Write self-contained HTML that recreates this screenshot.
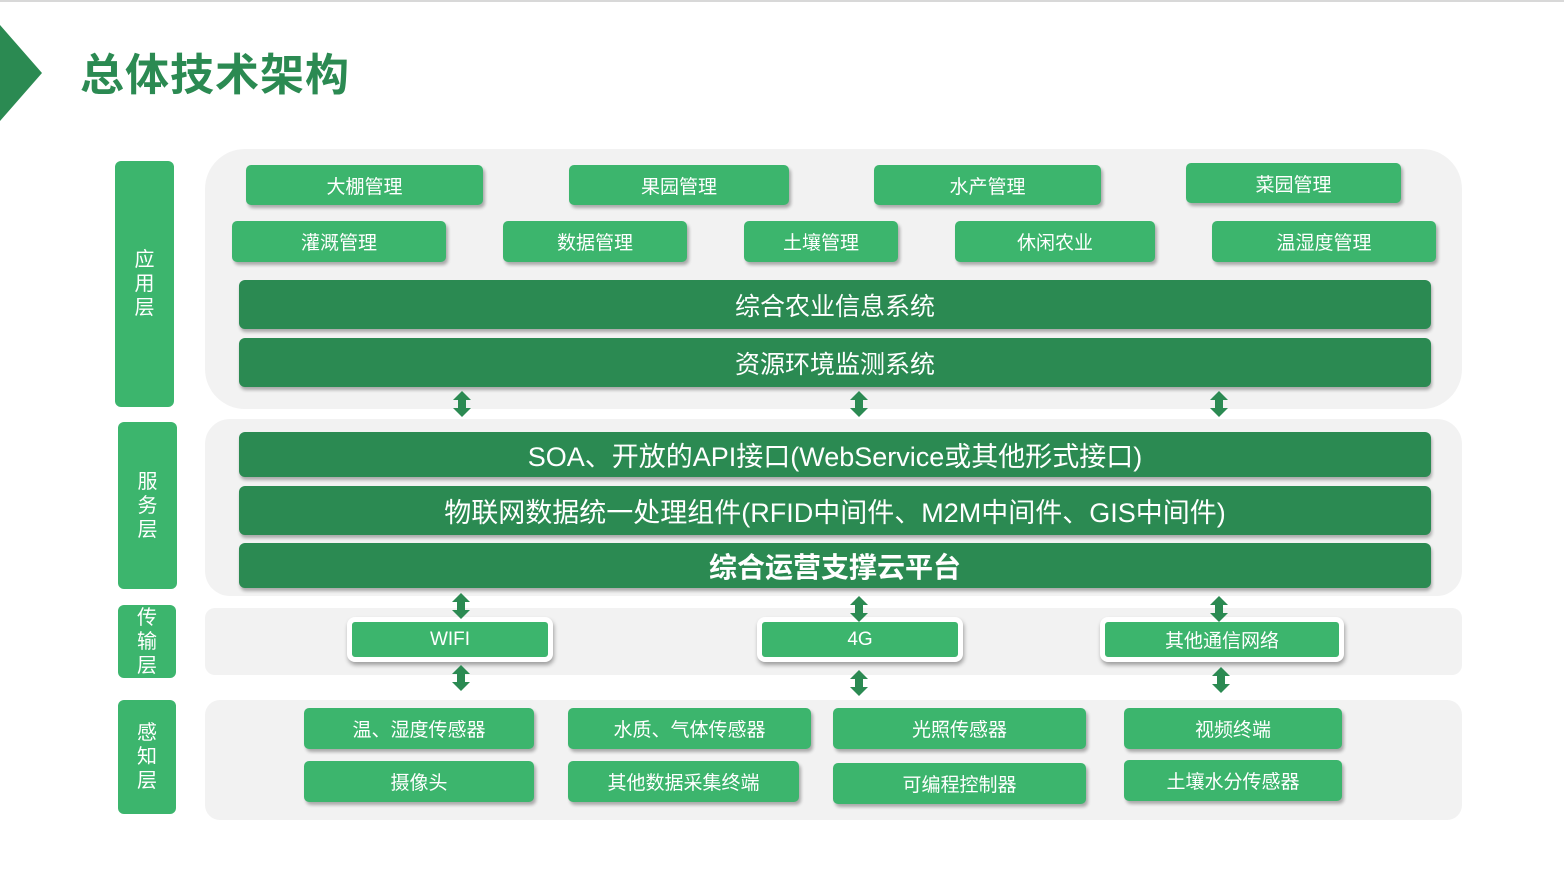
<!DOCTYPE html>
<html><head><meta charset="utf-8"><style>
body{margin:0;width:1564px;height:884px;background:#fff;position:relative;overflow:hidden;font-family:"Liberation Sans","Noto Sans CJK SC",sans-serif}
div{position:absolute;box-sizing:border-box}
.p{background:#f2f2f2}
.l{background:#3cb56d;color:#fff;border-radius:6px;font-size:20px;display:flex;align-items:center;justify-content:center;text-align:center;line-height:24px}
.b{background:#3cb56d;color:#fff;border-radius:5px;font-size:19px;display:flex;align-items:center;justify-content:center;box-shadow:2px 3px 3px rgba(0,0,0,.3)}
.d{background:#2b8a52;color:#fff;border-radius:6px;font-size:25px;display:flex;align-items:center;justify-content:center;box-shadow:1px 3px 3px rgba(0,0,0,.3)}
.t{background:#3cb56d;color:#fff;border:5px solid #fff;border-radius:8px;font-size:19px;display:flex;align-items:center;justify-content:center;box-shadow:1px 3px 4px rgba(0,0,0,.35)}
</style></head><body>
<div style="left:0;top:0;width:1564px;height:2px;background:#d8d8d8"></div>
<svg style="position:absolute;left:0;top:25px" width="45" height="100"><polygon points="0,0 42,48 0,96" fill="#2b8a52"/></svg>
<div style="left:80px;top:46px;font-size:44px;font-weight:bold;color:#2b8a52;letter-spacing:1px;line-height:60px">总体技术架构</div>

<div class="p" style="left:205px;top:149px;width:1257px;height:260px;border-radius:40px"></div>
<div class="p" style="left:205px;top:419px;width:1257px;height:177px;border-radius:25px"></div>
<div class="p" style="left:205px;top:608px;width:1257px;height:67px;border-radius:10px"></div>
<div class="p" style="left:205px;top:700px;width:1257px;height:120px;border-radius:15px"></div>

<div class="l" style="left:115px;top:161px;width:59px;height:246px">应<br>用<br>层</div>
<div class="l" style="left:118px;top:422px;width:59px;height:167px">服<br>务<br>层</div>
<div class="l" style="left:118px;top:605px;width:58px;height:73px">传<br>输<br>层</div>
<div class="l" style="left:118px;top:700px;width:58px;height:114px">感<br>知<br>层</div>

<div class="b" style="left:246px;top:165px;width:237px;height:40px">大棚管理</div>
<div class="b" style="left:569px;top:165px;width:220px;height:40px">果园管理</div>
<div class="b" style="left:874px;top:165px;width:227px;height:40px">水产管理</div>
<div class="b" style="left:1186px;top:163px;width:215px;height:40px">菜园管理</div>
<div class="b" style="left:232px;top:221px;width:214px;height:41px">灌溉管理</div>
<div class="b" style="left:503px;top:221px;width:184px;height:41px">数据管理</div>
<div class="b" style="left:744px;top:221px;width:154px;height:41px">土壤管理</div>
<div class="b" style="left:955px;top:221px;width:200px;height:41px">休闲农业</div>
<div class="b" style="left:1212px;top:221px;width:224px;height:41px">温湿度管理</div>
<div class="d" style="left:239px;top:280px;width:1192px;height:49px">综合农业信息系统</div>
<div class="d" style="left:239px;top:338px;width:1192px;height:49px">资源环境监测系统</div>

<div class="d" style="left:239px;top:432px;width:1192px;height:45px;font-size:27px">SOA、开放的API接口(WebService或其他形式接口)</div>
<div class="d" style="left:239px;top:486px;width:1192px;height:49px;font-size:27px">物联网数据统一处理组件(RFID中间件、M2M中间件、GIS中间件)</div>
<div class="d" style="left:239px;top:543px;width:1192px;height:45px;font-weight:bold;font-size:28px">综合运营支撑云平台</div>

<div class="t" style="left:347px;top:617px;width:206px;height:45px">WIFI</div>
<div class="t" style="left:757px;top:617px;width:206px;height:45px">4G</div>
<div class="t" style="left:1100px;top:617px;width:244px;height:45px">其他通信网络</div>

<div class="b" style="left:304px;top:708px;width:230px;height:41px">温、湿度传感器</div>
<div class="b" style="left:568px;top:708px;width:243px;height:41px">水质、气体传感器</div>
<div class="b" style="left:833px;top:708px;width:253px;height:41px">光照传感器</div>
<div class="b" style="left:1124px;top:708px;width:218px;height:41px">视频终端</div>
<div class="b" style="left:304px;top:761px;width:230px;height:41px">摄像头</div>
<div class="b" style="left:568px;top:761px;width:231px;height:41px">其他数据采集终端</div>
<div class="b" style="left:833px;top:763px;width:253px;height:41px">可编程控制器</div>
<div class="b" style="left:1124px;top:760px;width:218px;height:41px">土壤水分传感器</div>

<svg width="1564" height="884" style="position:absolute;left:0;top:0">
<defs><g id="ar"><polygon points="0,0 9,9 4,9 4,17 9,17 0,26 -9,17 -4,17 -4,9 -9,9" fill="#2b8a52"/></g></defs>
<use href="#ar" x="462" y="391"/><use href="#ar" x="859" y="391"/><use href="#ar" x="1219" y="391"/>
<use href="#ar" x="461" y="593"/><use href="#ar" x="859" y="596"/><use href="#ar" x="1219" y="596"/>
<use href="#ar" x="461" y="665"/><use href="#ar" x="859" y="670"/><use href="#ar" x="1221" y="667"/>
</svg>
</body></html>
